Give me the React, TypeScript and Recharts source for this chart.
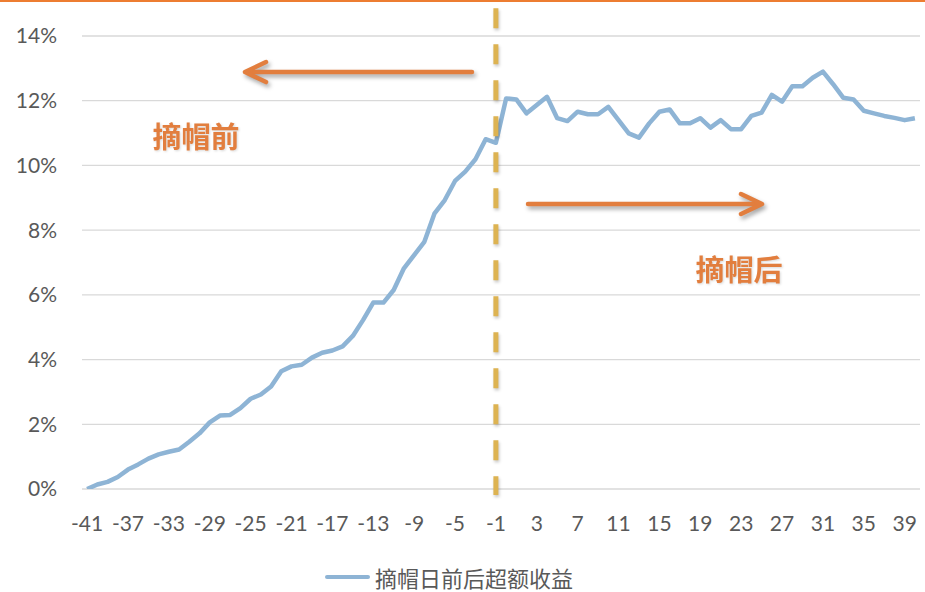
import React from 'react';
import { LineChart, Line, XAxis, YAxis, CartesianGrid, ReferenceLine, ReferenceDot, Legend } from 'recharts';

const days = [
  -41, -40, -39, -38, -37, -36, -35, -34, -33, -32, -31, -30, -29, -28, -27, -26, -25, -24, -23, -22, -21,
  -20, -19, -18, -17, -16, -15, -14, -13, -12, -11, -10, -9, -8, -7, -6, -5, -4, -3, -2, -1,
  0, 1, 2, 3, 4, 5, 6, 7, 8, 9, 10, 11, 12, 13, 14, 15, 16, 17, 18, 19, 20,
  21, 22, 23, 24, 25, 26, 27, 28, 29, 30, 31, 32, 33, 34, 35, 36, 37, 38, 39, 40,
];

// excess return, in percent
const excess = [
  0.0, 0.14, 0.22, 0.37, 0.6, 0.76, 0.94, 1.07, 1.15, 1.22, 1.46, 1.72, 2.06, 2.27, 2.29, 2.5, 2.79, 2.92, 3.17, 3.64, 3.79,
  3.84, 4.06, 4.21, 4.28, 4.41, 4.73, 5.22, 5.76, 5.76, 6.15, 6.82, 7.23, 7.64, 8.52, 8.93, 9.52, 9.81, 10.19, 10.81, 10.7,
  12.07, 12.04, 11.61, 11.87, 12.12, 11.46, 11.37, 11.66, 11.58, 11.58, 11.81, 11.4, 10.99, 10.86, 11.3, 11.66, 11.73, 11.3, 11.3, 11.46, 11.17,
  11.4, 11.12, 11.12, 11.53, 11.63, 12.18, 11.97, 12.45, 12.45, 12.71, 12.9, 12.51, 12.09, 12.04, 11.69, 11.61, 11.53, 11.47, 11.4, 11.46,
];

const xTicks = [-41, -37, -33, -29, -25, -21, -17, -13, -9, -5, -1, 3, 7, 11, 15, 19, 23, 27, 31, 35, 39];
const yTicks = [0, 2, 4, 6, 8, 10, 12, 14];

const seriesName = '摘帽日前后超额收益';
const eventDay = -1;
const beforeLabel = '摘帽前';
const afterLabel = '摘帽后';

const data = days.map((d, i) => ({ day: d, value: excess[i] }));

const LINE_COLOR = '#8EB4D5';
const ORANGE = '#E27E3E';
const GOLD = '#DDB352';
const TEXT = '#595959';

const Arrow = (p: any) => {
  const { x1, y1, x2, y2 } = p;
  const dx = x2 - x1;
  const dy = y2 - y1;
  const len = Math.hypot(dx, dy) || 1;
  const ux = dx / len;
  const uy = dy / len;
  const ah = 21;
  const aw = 10;
  const bx = x2 - ux * ah;
  const by = y2 - uy * ah;
  const px = -uy;
  const py = ux;
  return (
    <g style={{ filter: 'drop-shadow(2px 3px 2px rgba(0,0,0,0.35))' }}>
      <line x1={x1} y1={y1} x2={x2 - ux * 2} y2={y2 - uy * 2} stroke={ORANGE} strokeWidth={4.5} strokeLinecap="round" />
      <polyline
        points={`${bx + px * aw},${by + py * aw} ${x2},${y2} ${bx - px * aw},${by - py * aw}`}
        fill="none"
        stroke={ORANGE}
        strokeWidth={4.5}
        strokeLinecap="round"
        strokeLinejoin="round"
      />
    </g>
  );
};

const DashedMarker = (p: any) => (
  <line
    x1={p.x1}
    y1={p.y1}
    x2={p.x2}
    y2={p.y2}
    stroke={GOLD}
    strokeWidth={5}
    strokeDasharray="20 16"
    style={{ filter: 'drop-shadow(1px 2px 1.5px rgba(0,0,0,0.22))' }}
  />
);

const makeLabel = (text: string) => (p: any) => (
  <text
    x={p.cx}
    y={p.cy}
    textAnchor="middle"
    dominantBaseline="central"
    fill={ORANGE}
    fontSize={29}
    fontWeight={700}
    fontFamily='"Noto Sans CJK SC", sans-serif'
    style={{ filter: 'drop-shadow(1px 1px 1px rgba(0,0,0,0.15))' }}
  >
    {text}
  </text>
);

const LegendContent = (props: any) => {
  const item = props.payload && props.payload[0];
  return (
    <div
      style={{
        display: 'flex',
        alignItems: 'center',
        width: 920,
        height: 30,
        paddingLeft: 325,
        boxSizing: 'border-box',
      }}
    >
      <div style={{ width: 45, height: 4.5, background: LINE_COLOR, borderRadius: 2, marginRight: 5, flex: 'none' }} />
      <div
        style={{
          fontSize: 22,
          lineHeight: '30px',
          color: TEXT,
          fontFamily: '"Noto Sans CJK SC", sans-serif',
          whiteSpace: 'nowrap',
          flex: 'none',
        }}
      >
        {item ? item.value : seriesName}
      </div>
    </div>
  );
};

export default function App() {
  const tickStyle = { fill: TEXT, fontSize: 21, fontFamily: 'Lato, "Liberation Sans", sans-serif' };
  return (
    <div style={{ position: 'absolute', left: 0, top: 0, width: 925, height: 592, background: '#fff' }}>
      <div style={{ position: 'absolute', left: 0, top: 0, width: 925, height: 2, background: '#ED7D31', zIndex: 2 }} />
      <LineChart width={925} height={592} data={data} margin={{ top: 36, right: 5, bottom: 0, left: 0 }}>
        <CartesianGrid horizontal vertical={false} stroke="#D9D9D9" strokeWidth={1.3} />
        <XAxis
          dataKey="day"
          type="number"
          domain={[-41.5, 40.5]}
          ticks={xTicks}
          allowDataOverflow
          axisLine={false}
          tickLine={false}
          tickSize={0}
          tickMargin={27}
          height={73}
          tick={tickStyle}
          interval={0}
        />
        <YAxis
          type="number"
          domain={[0, 14]}
          ticks={yTicks}
          allowDataOverflow
          axisLine={false}
          tickLine={false}
          tickSize={0}
          tickMargin={25}
          width={82}
          tick={tickStyle}
          tickFormatter={(v: number) => `${v}%`}
          interval={0}
        />
        <Legend verticalAlign="bottom" content={<LegendContent />} />
        <Line
          type="linear"
          dataKey="value"
          name={seriesName}
          stroke={LINE_COLOR}
          strokeWidth={4.5}
          strokeLinejoin="round"
          dot={false}
          activeDot={false}
          isAnimationActive={false}
        />
        <ReferenceLine
          segment={[{ x: eventDay, y: 14.855 }, { x: eventDay, y: -0.185 }]}
          ifOverflow="visible"
          shape={DashedMarker}
        />
        <ReferenceLine
          segment={[{ x: -3.34, y: 12.886 }, { x: -25.55, y: 12.886 }]}
          ifOverflow="visible"
          shape={Arrow}
        />
        <ReferenceLine
          segment={[{ x: 2.14, y: 8.807 }, { x: 25.04, y: 8.807 }]}
          ifOverflow="visible"
          shape={Arrow}
        />
        <ReferenceDot x={-30.35} y={10.94} r={0} ifOverflow="visible" shape={makeLabel(beforeLabel)} />
        <ReferenceDot x={22.79} y={6.83} r={0} ifOverflow="visible" shape={makeLabel(afterLabel)} />
      </LineChart>
    </div>
  );
}
